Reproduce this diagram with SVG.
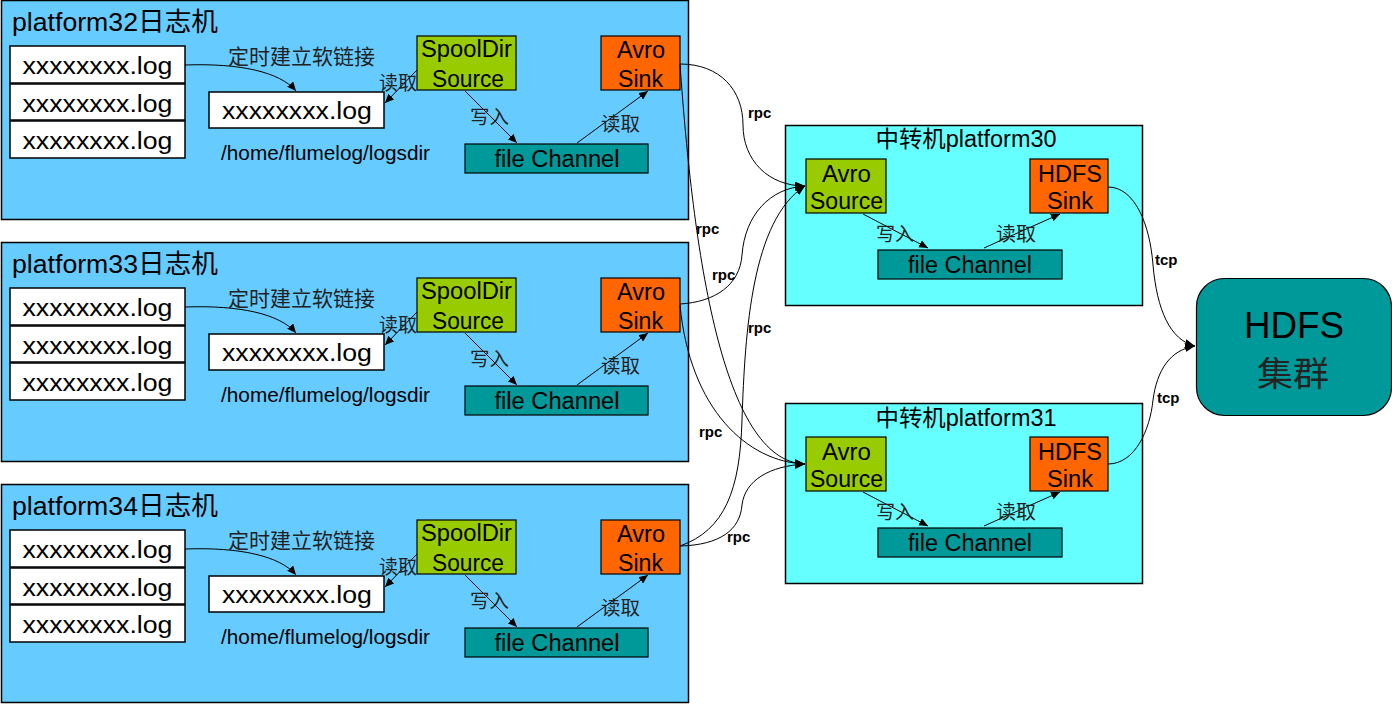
<svg xmlns="http://www.w3.org/2000/svg" width="1392" height="704" viewBox="0 0 1392 704">
<style>
.plat{fill:#66CCFF;stroke:#000;stroke-width:1.5}
.hub{fill:#66FFFF;stroke:#000;stroke-width:1.5}
.log{fill:#fff;stroke:#000;stroke-width:1.5}
.src{fill:#99CC00;stroke:#000;stroke-width:1.2}
.sink{fill:#FF6600;stroke:#000;stroke-width:1.2}
.ch{fill:#009999;stroke:#000;stroke-width:1.2}
text{font-family:"Liberation Sans","Noto Sans CJK SC",sans-serif;fill:#000}
.t26{font-size:26px}
.t23{font-size:23px}
.t21{font-size:21px}
.t19{font-size:19px}
.t18{font-size:18px}
.mid{text-anchor:middle}
.lbl{font-size:15px;font-weight:bold}
.cn{font-family:"Noto Sans CJK SC",sans-serif;fill:#222}
.ln{fill:none;stroke:#000;stroke-width:1}
</style>
<defs>
<marker id="ah" markerUnits="userSpaceOnUse" markerWidth="11" markerHeight="9" refX="10" refY="4.5" orient="auto">
<path d="M0,0 L10,4.5 L0,9 z" fill="#000"/>
</marker>
<marker id="as" markerUnits="userSpaceOnUse" markerWidth="10" markerHeight="8" refX="9" refY="4" orient="auto">
<path d="M0,0 L9,4 L0,8 z" fill="#000"/>
</marker>
</defs>

<g id="platform32">
<rect class="plat" x="1.5" y="0.5" width="687" height="219"/>
<text class="t26" x="12" y="31" textLength="206" lengthAdjust="spacingAndGlyphs">platform32日志机</text>
<g id="p32-log1"><rect class="log" x="10" y="46" width="175" height="37"/><text class="t23" x="22.5" y="74" textLength="150" lengthAdjust="spacingAndGlyphs">xxxxxxxx.log</text></g>
<g id="p32-log2"><rect class="log" x="10" y="84" width="175" height="36"/><text class="t23" x="22.5" y="112" textLength="150" lengthAdjust="spacingAndGlyphs">xxxxxxxx.log</text></g>
<g id="p32-log3"><rect class="log" x="10" y="121" width="175" height="37"/><text class="t23" x="22.5" y="149" textLength="150" lengthAdjust="spacingAndGlyphs">xxxxxxxx.log</text></g>
<g id="p32-link"><rect class="log" x="209" y="92" width="175" height="36"/><text class="t23" x="222" y="119" textLength="150" lengthAdjust="spacingAndGlyphs">xxxxxxxx.log</text></g>
<text class="t21" x="221" y="160" textLength="209" lengthAdjust="spacingAndGlyphs">/home/flumelog/logsdir</text>
<g id="p32-spool"><rect class="src" x="417" y="36" width="99" height="54"/><text class="t23 mid" x="466.5" y="57" textLength="91" lengthAdjust="spacingAndGlyphs">SpoolDir</text><text class="t23 mid" x="468" y="87" textLength="72" lengthAdjust="spacingAndGlyphs">Source</text></g>
<g id="p32-avro"><rect class="sink" x="601" y="36" width="79" height="54"/><text class="t23 mid" x="641" y="58" textLength="48" lengthAdjust="spacingAndGlyphs">Avro</text><text class="t23 mid" x="640.5" y="87" textLength="45" lengthAdjust="spacingAndGlyphs">Sink</text></g>
<g id="p32-channel"><rect class="ch" x="465" y="144" width="183" height="29"/><text class="t23 mid" x="557" y="167" textLength="125" lengthAdjust="spacingAndGlyphs">file Channel</text></g>
</g>

<g id="platform33" transform="translate(0,242)">
<rect class="plat" x="1.5" y="0.5" width="687" height="219"/>
<text class="t26" x="12" y="31" textLength="206" lengthAdjust="spacingAndGlyphs">platform33日志机</text>
<g id="p33-log1"><rect class="log" x="10" y="46" width="175" height="37"/><text class="t23" x="22.5" y="74" textLength="150" lengthAdjust="spacingAndGlyphs">xxxxxxxx.log</text></g>
<g id="p33-log2"><rect class="log" x="10" y="84" width="175" height="36"/><text class="t23" x="22.5" y="112" textLength="150" lengthAdjust="spacingAndGlyphs">xxxxxxxx.log</text></g>
<g id="p33-log3"><rect class="log" x="10" y="121" width="175" height="37"/><text class="t23" x="22.5" y="149" textLength="150" lengthAdjust="spacingAndGlyphs">xxxxxxxx.log</text></g>
<g id="p33-link"><rect class="log" x="209" y="92" width="175" height="36"/><text class="t23" x="222" y="119" textLength="150" lengthAdjust="spacingAndGlyphs">xxxxxxxx.log</text></g>
<text class="t21" x="221" y="160" textLength="209" lengthAdjust="spacingAndGlyphs">/home/flumelog/logsdir</text>
<g id="p33-spool"><rect class="src" x="417" y="36" width="99" height="54"/><text class="t23 mid" x="466.5" y="57" textLength="91" lengthAdjust="spacingAndGlyphs">SpoolDir</text><text class="t23 mid" x="468" y="87" textLength="72" lengthAdjust="spacingAndGlyphs">Source</text></g>
<g id="p33-avro"><rect class="sink" x="601" y="36" width="79" height="54"/><text class="t23 mid" x="641" y="58" textLength="48" lengthAdjust="spacingAndGlyphs">Avro</text><text class="t23 mid" x="640.5" y="87" textLength="45" lengthAdjust="spacingAndGlyphs">Sink</text></g>
<g id="p33-channel"><rect class="ch" x="465" y="144" width="183" height="29"/><text class="t23 mid" x="557" y="167" textLength="125" lengthAdjust="spacingAndGlyphs">file Channel</text></g>
</g>

<g id="platform34" transform="translate(0,484)">
<rect class="plat" x="1.5" y="0.5" width="687" height="218"/>
<text class="t26" x="12" y="31" textLength="206" lengthAdjust="spacingAndGlyphs">platform34日志机</text>
<g id="p34-log1"><rect class="log" x="10" y="46" width="175" height="37"/><text class="t23" x="22.5" y="74" textLength="150" lengthAdjust="spacingAndGlyphs">xxxxxxxx.log</text></g>
<g id="p34-log2"><rect class="log" x="10" y="84" width="175" height="36"/><text class="t23" x="22.5" y="112" textLength="150" lengthAdjust="spacingAndGlyphs">xxxxxxxx.log</text></g>
<g id="p34-log3"><rect class="log" x="10" y="121" width="175" height="37"/><text class="t23" x="22.5" y="149" textLength="150" lengthAdjust="spacingAndGlyphs">xxxxxxxx.log</text></g>
<g id="p34-link"><rect class="log" x="209" y="92" width="175" height="36"/><text class="t23" x="222" y="119" textLength="150" lengthAdjust="spacingAndGlyphs">xxxxxxxx.log</text></g>
<text class="t21" x="221" y="160" textLength="209" lengthAdjust="spacingAndGlyphs">/home/flumelog/logsdir</text>
<g id="p34-spool"><rect class="src" x="417" y="36" width="99" height="54"/><text class="t23 mid" x="466.5" y="57" textLength="91" lengthAdjust="spacingAndGlyphs">SpoolDir</text><text class="t23 mid" x="468" y="87" textLength="72" lengthAdjust="spacingAndGlyphs">Source</text></g>
<g id="p34-avro"><rect class="sink" x="601" y="36" width="79" height="54"/><text class="t23 mid" x="641" y="58" textLength="48" lengthAdjust="spacingAndGlyphs">Avro</text><text class="t23 mid" x="640.5" y="87" textLength="45" lengthAdjust="spacingAndGlyphs">Sink</text></g>
<g id="p34-channel"><rect class="ch" x="465" y="144" width="183" height="29"/><text class="t23 mid" x="557" y="167" textLength="125" lengthAdjust="spacingAndGlyphs">file Channel</text></g>
</g>

<g id="platform30">
<rect class="hub" x="785.5" y="125.5" width="357" height="180"/>
<text class="t23 mid" x="966" y="147" textLength="181" lengthAdjust="spacingAndGlyphs">中转机platform30</text>
<g id="p30-avro"><rect class="src" x="806" y="159" width="80" height="54"/><text class="t23 mid" x="846.5" y="182" textLength="49" lengthAdjust="spacingAndGlyphs">Avro</text><text class="t23 mid" x="846.5" y="209" textLength="73" lengthAdjust="spacingAndGlyphs">Source</text></g>
<g id="p30-hdfs"><rect class="sink" x="1030" y="159" width="78" height="54"/><text class="t23 mid" x="1070" y="182" textLength="64" lengthAdjust="spacingAndGlyphs">HDFS</text><text class="t23 mid" x="1070" y="209" textLength="46" lengthAdjust="spacingAndGlyphs">Sink</text></g>
<g id="p30-channel"><rect class="ch" x="878" y="250" width="184" height="29"/><text class="t23 mid" x="970" y="273" textLength="124" lengthAdjust="spacingAndGlyphs">file Channel</text></g>
</g>

<g id="platform31" transform="translate(0,278)">
<rect class="hub" x="785.5" y="125.5" width="357" height="180"/>
<text class="t23 mid" x="966" y="148" textLength="181" lengthAdjust="spacingAndGlyphs">中转机platform31</text>
<g id="p31-avro"><rect class="src" x="806" y="159" width="80" height="54"/><text class="t23 mid" x="846.5" y="182" textLength="49" lengthAdjust="spacingAndGlyphs">Avro</text><text class="t23 mid" x="846.5" y="209" textLength="73" lengthAdjust="spacingAndGlyphs">Source</text></g>
<g id="p31-hdfs"><rect class="sink" x="1030" y="159" width="78" height="54"/><text class="t23 mid" x="1070" y="182" textLength="64" lengthAdjust="spacingAndGlyphs">HDFS</text><text class="t23 mid" x="1070" y="209" textLength="46" lengthAdjust="spacingAndGlyphs">Sink</text></g>
<g id="p31-channel"><rect class="ch" x="878" y="250" width="184" height="29"/><text class="t23 mid" x="970" y="273" textLength="124" lengthAdjust="spacingAndGlyphs">file Channel</text></g>
</g>

<g id="hdfs">
<rect x="1196.5" y="278.5" width="195" height="137" rx="28" ry="28" fill="#009999" stroke="#000" stroke-width="1.2"/>
<text class="mid" x="1294" y="338" font-size="36" textLength="100" lengthAdjust="spacingAndGlyphs">HDFS</text>
<text class="mid cn" x="1293" y="386" font-size="34" textLength="72" lengthAdjust="spacingAndGlyphs">集群</text>
</g>

<g id="connectors">
<g id="p32-conn">
<path class="ln" d="M185,65 C240,63 280,72 296,91" marker-end="url(#as)"/>
<path class="ln" d="M417,70 L385,103" marker-end="url(#as)"/>
<path class="ln" d="M465,91 L517,143" marker-end="url(#as)"/>
<path class="ln" d="M577,143 L648,91" marker-end="url(#as)"/>
<text class="cn" x="228" y="64" textLength="147" lengthAdjust="spacingAndGlyphs" style="font-size:21px">定时建立软链接</text>
<text class="t19 cn" x="379" y="90" textLength="38" lengthAdjust="spacingAndGlyphs">读取</text>
<text class="t19 cn" x="470" y="124" textLength="39" lengthAdjust="spacingAndGlyphs">写入</text>
<text class="t19 cn" x="601" y="131" textLength="39" lengthAdjust="spacingAndGlyphs">读取</text>
</g>
<g id="p33-conn" transform="translate(0,242)">
<path class="ln" d="M185,65 C240,63 280,72 296,91" marker-end="url(#as)"/>
<path class="ln" d="M417,70 L385,103" marker-end="url(#as)"/>
<path class="ln" d="M465,91 L517,143" marker-end="url(#as)"/>
<path class="ln" d="M577,143 L648,91" marker-end="url(#as)"/>
<text class="cn" x="228" y="64" textLength="147" lengthAdjust="spacingAndGlyphs" style="font-size:21px">定时建立软链接</text>
<text class="t19 cn" x="379" y="90" textLength="38" lengthAdjust="spacingAndGlyphs">读取</text>
<text class="t19 cn" x="470" y="124" textLength="39" lengthAdjust="spacingAndGlyphs">写入</text>
<text class="t19 cn" x="601" y="131" textLength="39" lengthAdjust="spacingAndGlyphs">读取</text>
</g>
<g id="p34-conn" transform="translate(0,484)">
<path class="ln" d="M185,65 C240,63 280,72 296,91" marker-end="url(#as)"/>
<path class="ln" d="M417,70 L385,103" marker-end="url(#as)"/>
<path class="ln" d="M465,91 L517,143" marker-end="url(#as)"/>
<path class="ln" d="M577,143 L648,91" marker-end="url(#as)"/>
<text class="cn" x="228" y="64" textLength="147" lengthAdjust="spacingAndGlyphs" style="font-size:21px">定时建立软链接</text>
<text class="t19 cn" x="379" y="90" textLength="38" lengthAdjust="spacingAndGlyphs">读取</text>
<text class="t19 cn" x="470" y="124" textLength="39" lengthAdjust="spacingAndGlyphs">写入</text>
<text class="t19 cn" x="601" y="131" textLength="39" lengthAdjust="spacingAndGlyphs">读取</text>
</g>
<g id="p30-conn">
<path class="ln" d="M863,214 L928,248" marker-end="url(#as)"/>
<path class="ln" d="M984,248 L1060,214" marker-end="url(#as)"/>
<text class="t19 cn" x="876" y="241" textLength="38" lengthAdjust="spacingAndGlyphs">写入</text>
<text class="t19 cn" x="996" y="241" textLength="40" lengthAdjust="spacingAndGlyphs">读取</text>
</g>
<g id="p31-conn" transform="translate(0,278)">
<path class="ln" d="M863,214 L928,248" marker-end="url(#as)"/>
<path class="ln" d="M984,248 L1060,214" marker-end="url(#as)"/>
<text class="t19 cn" x="876" y="241" textLength="38" lengthAdjust="spacingAndGlyphs">写入</text>
<text class="t19 cn" x="996" y="241" textLength="40" lengthAdjust="spacingAndGlyphs">读取</text>
</g>
<g id="rpc">
<path class="ln" d="M680,64 C720,64 743,90 743,125 C743,160 768,186 805,186" marker-end="url(#ah)"/>
<path class="ln" d="M680,64 C693,250 722,462 805,464" marker-end="url(#ah)"/>
<path class="ln" d="M680,304 C715,302 740,285 742,255 C745,215 770,188 805,186" marker-end="url(#ah)"/>
<path class="ln" d="M680,305 C690,410 748,462 805,464" marker-end="url(#ah)"/>
<path class="ln" d="M680,546 C725,530 740,490 742,420 C745,330 752,220 805,186" marker-end="url(#ah)"/>
<path class="ln" d="M680,546 C720,545 740,530 742,505 C745,480 770,466 805,464" marker-end="url(#ah)"/>
<text class="lbl" x="748" y="118">rpc</text>
<text class="lbl" x="696" y="234">rpc</text>
<text class="lbl" x="712" y="280">rpc</text>
<text class="lbl" x="748" y="333">rpc</text>
<text class="lbl" x="699" y="437">rpc</text>
<text class="lbl" x="727" y="542">rpc</text>
</g>
<g id="tcp">
<path class="ln" d="M1108,187 C1135,187 1150,225 1153,265 C1157,310 1170,340 1195,346" marker-end="url(#ah)"/>
<path class="ln" d="M1108,464 C1135,464 1150,430 1153,400 C1157,370 1170,350 1195,346" marker-end="url(#ah)"/>
<text class="lbl" x="1155" y="265">tcp</text>
<text class="lbl" x="1157" y="403">tcp</text>
</g>
</g>
</svg>
